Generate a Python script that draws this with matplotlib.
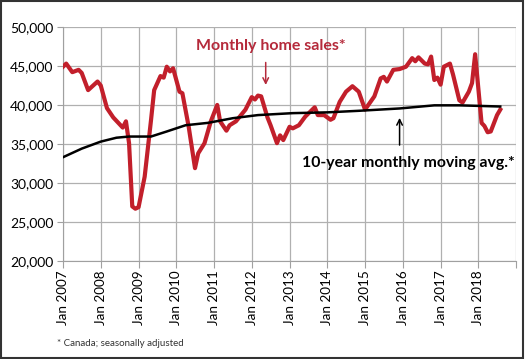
import matplotlib
matplotlib.use('Agg')
import matplotlib.pyplot as plt
from matplotlib.patches import Rectangle
import pandas as pd

plt.rcParams['font.family'] = ['Lato', 'DejaVu Sans']

# monthly home sales (Canada, seasonally adjusted)
sales_dates = ['2007-01', '2007-02', '2007-04', '2007-06', '2007-07', '2007-09', '2007-12',
               '2008-01', '2008-03', '2008-05', '2008-08', '2008-09', '2008-10', '2008-11', '2008-12',
               '2009-01', '2009-03', '2009-05', '2009-06', '2009-08', '2009-09', '2009-10', '2009-11', '2009-12',
               '2010-02', '2010-03', '2010-05', '2010-07', '2010-08', '2010-10', '2010-12',
               '2011-02', '2011-03', '2011-05', '2011-06', '2011-08', '2011-11',
               '2012-01', '2012-02', '2012-03', '2012-04', '2012-06', '2012-07', '2012-09', '2012-10', '2012-11',
               '2013-01', '2013-02', '2013-04', '2013-06', '2013-09', '2013-10', '2013-12',
               '2014-02', '2014-03', '2014-05', '2014-07', '2014-09', '2014-11',
               '2015-01', '2015-04', '2015-06', '2015-07', '2015-08', '2015-10', '2015-12',
               '2016-02', '2016-04', '2016-05', '2016-06', '2016-08', '2016-09', '2016-10', '2016-11', '2016-12',
               '2017-01', '2017-02', '2017-04', '2017-05', '2017-07', '2017-08', '2017-10', '2017-11', '2017-12',
               '2018-02', '2018-03', '2018-04', '2018-05', '2018-07', '2018-08']
sales_values = [44900, 45300, 44200, 44500, 44100, 41900, 43000,
                42500, 39600, 38400, 37100, 37900, 35100, 27000, 26700,
                26900, 30800, 38000, 41900, 43700, 43500, 44900, 44300, 44700,
                41700, 41500, 37200, 31900, 33800, 35100, 37900,
                40000, 37900, 36700, 37400, 37900, 39400,
                41000, 40700, 41200, 41100, 38400, 37400, 35100, 36100, 35500,
                37200, 37000, 37400, 38500, 39700, 38700, 38700,
                38100, 38300, 40400, 41700, 42400, 41700,
                39400, 41100, 43400, 43600, 43000, 44500, 44600,
                44900, 46000, 45600, 46100, 45300, 45200, 46200, 43200, 43500,
                42600, 44900, 45300, 43900, 40600, 40300, 41700, 42800, 46500,
                37700, 37300, 36500, 36600, 38700, 39400]

# 10-year monthly moving average
avg_dates = ['2007-01', '2007-07', '2008-01', '2008-06', '2008-10', '2009-05', '2009-10',
             '2010-04', '2010-11', '2011-07', '2012-03', '2013-02', '2014-01', '2014-11',
             '2015-12', '2016-11', '2017-07', '2018-08']
avg_values = [33300, 34400, 35300, 35800, 35950, 35950, 36600,
              37400, 37700, 38300, 38700, 38950, 39050, 39250,
              39550, 39950, 39950, 39800]

tick_years = list(range(2007, 2020))
tick_labels = ['Jan %d' % y for y in range(2007, 2019)] + ['']

fig = plt.figure(figsize=(5.25, 3.59), dpi=100)
ax = fig.add_axes([0.12, 0.273, 0.863, 0.652])

red = '#c21f2b'
ax.plot(pd.to_datetime(sales_dates), sales_values, color=red, linewidth=3.0,
        solid_joinstyle='round', zorder=3)
ax.plot(pd.to_datetime(avg_dates), avg_values, color='black', linewidth=1.8, zorder=4)

ticks = [pd.Timestamp('%d-01-01' % y) for y in tick_years]
ax.set_xlim(ticks[0], ticks[-1])
ax.set_xticks(ticks)
ax.set_xticklabels(tick_labels, rotation=90, fontsize=9.7)
ax.set_ylim(20000, 50000)
ax.set_yticks(range(20000, 50001, 5000))
ax.yaxis.set_major_formatter(matplotlib.ticker.FuncFormatter(lambda v, p: '{:,.0f}'.format(v)))
ax.tick_params(axis='y', labelsize=10, length=4, color='#a0a0a0', pad=3)
ax.tick_params(axis='x', length=5, color='#a0a0a0', pad=2)
ax.grid(True, color='#b0b0b0', linewidth=0.9)
ax.set_axisbelow(True)
for s in ['top', 'right']:
    ax.spines[s].set_visible(False)
for s in ['left', 'bottom']:
    ax.spines[s].set_color('#a0a0a0')

ax.text(pd.Timestamp('2010-07-10'), 47500, 'Monthly home sales*', color='#b52a3b',
        fontsize=11.5, fontweight='bold', va='center', ha='left')
ax.annotate('', xy=(pd.Timestamp('2012-05-15'), 42200), xytext=(pd.Timestamp('2012-05-15'), 45800),
            arrowprops=dict(arrowstyle='->', color='#b52a3b', lw=1.1))

ax.text(pd.Timestamp('2013-05-01'), 32600, '10-year monthly moving avg.*', color='black',
        fontsize=11.4, fontweight='bold', va='center', ha='left')
ax.annotate('', xy=(pd.Timestamp('2015-12-01'), 38700), xytext=(pd.Timestamp('2015-12-01'), 34500),
            arrowprops=dict(arrowstyle='->', color='black', lw=1.1))

fig.text(57 / 525, 1 - 344 / 359, '* Canada; seasonally adjusted', fontsize=7,
         color='#333333', va='center', ha='left')

fig.patches.append(Rectangle((0.002, 0.003), 0.995, 0.994, transform=fig.transFigure,
                             fill=False, edgecolor='#333333', linewidth=1.5))

fig.savefig('out.png', dpi=100)
